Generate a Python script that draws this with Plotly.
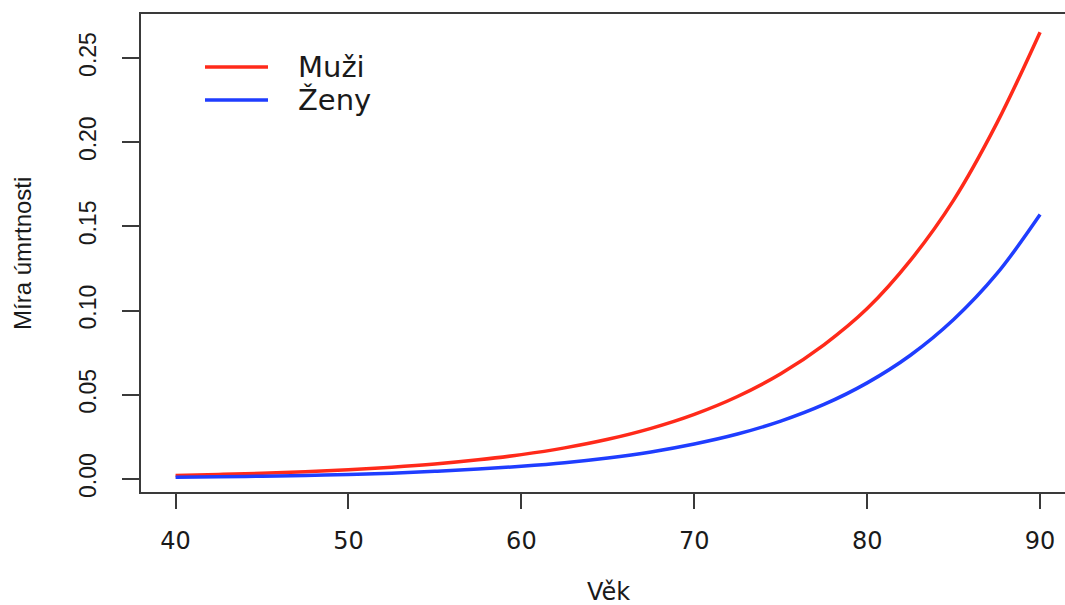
import plotly.graph_objects as go

# Věk (roky)
vek = [40, 42.5, 45, 47.5, 50, 52.5, 55, 57.5, 60, 62.5, 65, 67.5, 70,
       72.5, 75, 77.5, 80, 82.5, 85, 87.5, 90]

# Míra úmrtnosti podle pohlaví
muzi = [0.0021, 0.0027, 0.0034, 0.0043, 0.0055, 0.0070, 0.0089, 0.0114,
        0.0145, 0.0185, 0.0236, 0.0301, 0.0384, 0.0490, 0.0625, 0.0797,
        0.1012, 0.1298, 0.1656, 0.2113, 0.2653]
zeny = [0.0010, 0.0013, 0.0017, 0.0021, 0.0027, 0.0035, 0.0046, 0.0059,
        0.0076, 0.0097, 0.0125, 0.0161, 0.0208, 0.0267, 0.0344, 0.0443,
        0.0571, 0.0735, 0.0947, 0.1219, 0.1570]

x_ticks = [40, 50, 60, 70, 80, 90]
y_ticks = [0.00, 0.05, 0.10, 0.15, 0.20, 0.25]
y_tick_labels = ["0.00", "0.05", "0.10", "0.15", "0.20", "0.25"]

RED = "#ff2a1a"
BLUE = "#1f3dff"
AXIS = "#3a3a3a"
TEXT = "#1a1a1a"

W, H = 1065, 605
L, T, B = 141, 14, 113
plot_w = W - L
px_per_year = (1040 - 175.5) / 50.0
x_lo = 38.0
x_hi = x_lo + plot_w / px_per_year

fig = go.Figure()
fig.add_trace(go.Scatter(x=vek, y=muzi, mode="lines", name="Muži",
                         line=dict(color=RED, width=3.5, shape="spline")))
fig.add_trace(go.Scatter(x=vek, y=zeny, mode="lines", name="Ženy",
                         line=dict(color=BLUE, width=3.5, shape="spline")))

fig.update_layout(
    width=W, height=H,
    margin=dict(l=L, r=0, t=T, b=B),
    paper_bgcolor="white", plot_bgcolor="white",
    showlegend=False,
    xaxis=dict(range=[x_lo, x_hi], tickvals=x_ticks,
               ticktext=[str(v) for v in x_ticks],
               showgrid=False, zeroline=False,
               showline=True, linecolor=AXIS, linewidth=1.6, mirror=True,
               ticks="outside", ticklen=15, tickwidth=1.6, tickcolor=AXIS,
               tickfont=dict(family="DejaVu Sans", size=24, color=TEXT),
               ticklabelstandoff=11),
    yaxis=dict(range=[-0.0077, 0.2761], tickvals=y_ticks,
               ticktext=y_tick_labels, tickangle=-90,
               showgrid=False, zeroline=False,
               showline=True, linecolor=AXIS, linewidth=1.6, mirror=False,
               ticks="outside", ticklen=17, tickwidth=1.6, tickcolor=AXIS,
               tickfont=dict(family="Liberation Sans", size=23, color=TEXT),
               ticklabelstandoff=17),
)

plot_h = H - T - B


def px_x(p):
    return (p - L) / plot_w


def px_y(p):
    return (H - B - p) / plot_h


# Osové popisky
fig.add_annotation(text="Věk", x=px_x(608), y=px_y(592), xref="paper", yref="paper",
                   showarrow=False, xanchor="center", yanchor="middle",
                   font=dict(family="DejaVu Sans", size=24, color=TEXT))
fig.add_annotation(text="Míra úmrtnosti", x=px_x(22), y=px_y(254), xref="paper",
                   yref="paper", showarrow=False, textangle=-90,
                   xanchor="center", yanchor="middle",
                   font=dict(family="Liberation Sans", size=24, color=TEXT))

# Legenda
for name, color, ypix in [("Muži", RED, 67), ("Ženy", BLUE, 100)]:
    fig.add_shape(type="line", xref="paper", yref="paper",
                  x0=px_x(205), x1=px_x(268), y0=px_y(ypix), y1=px_y(ypix),
                  line=dict(color=color, width=3.5))
    fig.add_annotation(text=name, x=px_x(296), y=px_y(ypix), xref="paper",
                       yref="paper", showarrow=False, xanchor="left",
                       yanchor="middle",
                       font=dict(family="DejaVu Sans", size=29, color=TEXT))

fig.write_html("out.html")
